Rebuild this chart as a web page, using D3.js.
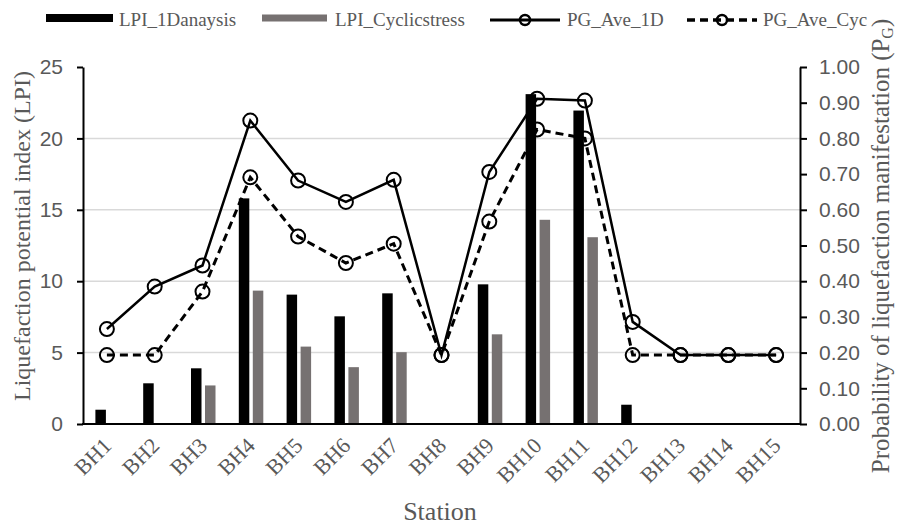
<!DOCTYPE html>
<html>
<head>
<meta charset="utf-8">
<script src="https://cdn.jsdelivr.net/npm/d3@7"></script>
<style>
  body { margin: 0; background: #fff; }
  svg { font-family: "Liberation Serif", "Times New Roman", serif; }
  .axis text { fill: #595959; font-size: 21px; }
  .axis path, .axis line { stroke: #000; stroke-width: 2; }
</style>
</head>
<body>
<div id="chart"></div>
<script>
// data
var stations = ["BH1","BH2","BH3","BH4","BH5","BH6","BH7","BH8","BH9","BH10","BH11","BH12","BH13","BH14","BH15"];
var lpi1D = [1.0, 2.85, 3.9, 15.8, 9.06, 7.54, 9.15, 0, 9.78, 23.1, 21.95, 1.35, 0, 0, 0];
var lpiCyc = [0, 0, 2.7, 9.34, 5.42, 3.98, 5.03, 0, 6.28, 14.3, 13.08, 0, 0, 0, 0];
var pg1D = [0.266, 0.385, 0.444, 0.85, 0.682, 0.622, 0.684, 0.193, 0.706, 0.911, 0.906, 0.286, 0.193, 0.193, 0.193];
var pgCyc = [0.193, 0.193, 0.371, 0.691, 0.525, 0.451, 0.505, 0.193, 0.567, 0.825, 0.80, 0.193, 0.193, 0.193, 0.193];
var leftTicks = [0, 5, 10, 15, 20, 25];
var rightTicks = [0, 0.1, 0.2, 0.3, 0.4, 0.5, 0.6, 0.7, 0.8, 0.9, 1.0];

var W = 898, H = 525;
var pLeft = 83, pRight = 800, pTop = 67, pBottom = 424;

var svg = d3.select("#chart").append("svg")
  .attr("width", W).attr("height", H);

var x0 = d3.scaleBand().domain(stations).range([pLeft, pRight]);
var x1 = d3.scaleBand().domain(["1D", "Cyc"]).range([-11.5, 13]).paddingInner(0.25);
var yL = d3.scaleLinear().domain([0, 25]).range([pBottom, pTop]);
var yR = d3.scaleLinear().domain([0, 1]).range([pBottom, pTop]);
var cx = function(s) { return x0(s) + x0.bandwidth() / 2; };

// gridlines
svg.append("g").selectAll("line")
  .data(leftTicks.filter(function(d) { return d > 0 && d < 25; }))
  .enter().append("line")
  .attr("x1", pLeft).attr("x2", pRight)
  .attr("y1", function(d) { return yL(d); })
  .attr("y2", function(d) { return yL(d); })
  .attr("stroke", "#d9d9d9").attr("stroke-width", 1.5);

// bars
var bars = [
  {key: "1D", values: lpi1D, color: "#000"},
  {key: "Cyc", values: lpiCyc, color: "#767171"}
];
bars.forEach(function(b) {
  svg.append("g").selectAll("rect")
    .data(stations.map(function(s, i) { return {s: s, v: b.values[i]}; }).filter(function(d) { return d.v > 0; }))
    .enter().append("rect")
    .attr("x", function(d) { return cx(d.s) + x1(b.key); })
    .attr("width", x1.bandwidth())
    .attr("y", function(d) { return yL(d.v); })
    .attr("height", function(d) { return yL(0) - yL(d.v); })
    .attr("fill", b.color);
});

// lines
var lines = [
  {values: pg1D, dash: null, width: 2.5},
  {values: pgCyc, dash: "8,5", width: 3}
];
var lineGen = d3.line()
  .x(function(d) { return cx(d.s); })
  .y(function(d) { return yR(d.v); });
lines.forEach(function(l) {
  var pts = stations.map(function(s, i) { return {s: s, v: l.values[i]}; });
  svg.append("path")
    .datum(pts)
    .attr("d", lineGen)
    .attr("fill", "none")
    .attr("stroke", "#000")
    .attr("stroke-width", l.width)
    .attr("stroke-dasharray", l.dash);
  svg.append("g").selectAll("circle")
    .data(pts).enter().append("circle")
    .attr("cx", function(d) { return cx(d.s); })
    .attr("cy", function(d) { return yR(d.v); })
    .attr("r", 7)
    .attr("fill", "none")
    .attr("stroke", "#000")
    .attr("stroke-width", 2);
});

// axes
svg.append("g").attr("class", "axis")
  .attr("transform", "translate(" + pLeft + ",0)")
  .call(d3.axisLeft(yL).tickValues(leftTicks).tickSizeOuter(0).tickSizeInner(6).tickPadding(14));

svg.append("g").attr("class", "axis")
  .attr("transform", "translate(" + pRight + ",0)")
  .call(d3.axisRight(yR).tickValues(rightTicks).tickFormat(d3.format(".2f")).tickSizeOuter(0).tickSizeInner(7).tickPadding(12));

svg.append("line")
  .attr("x1", pLeft - 1).attr("x2", pRight + 1)
  .attr("y1", pBottom).attr("y2", pBottom)
  .attr("stroke", "#000").attr("stroke-width", 2);

// x labels
svg.append("g").selectAll("text")
  .data(stations).enter().append("text")
  .attr("transform", function(d) { return "translate(" + (cx(d) + 6) + "," + (pBottom + 23) + ") rotate(-45)"; })
  .attr("text-anchor", "end")
  .attr("fill", "#595959")
  .style("font-size", "22px")
  .text(function(d) { return d; });

// axis titles
svg.append("text")
  .attr("transform", "translate(" + 30 + "," + 236 + ") rotate(-90)")
  .attr("text-anchor", "middle")
  .attr("fill", "#595959").style("font-size", "24px")
  .text("Liquefaction potential index (LPI)");

var rt = svg.append("text")
  .attr("transform", "translate(" + 889 + "," + 246 + ") rotate(-90)")
  .attr("text-anchor", "middle")
  .attr("fill", "#595959").style("font-size", "25px");
rt.append("tspan").text("Probability of liquefaction manifestation (P");
rt.append("tspan").attr("dy", 4).style("font-size", "16px").text("G");
rt.append("tspan").attr("dy", -4).text(")");

svg.append("text")
  .attr("x", 440).attr("y", 520)
  .attr("text-anchor", "middle")
  .attr("fill", "#595959").style("font-size", "26px")
  .text("Station");

// legend
var lg = svg.append("g").style("font-size", "19px").attr("fill", "#595959");
lg.append("rect").attr("x", 46).attr("y", 14).attr("width", 67).attr("height", 8).attr("fill", "#000");
lg.append("text").attr("x", 119).attr("y", 26).text("LPI_1Danaysis");
lg.append("rect").attr("x", 262).attr("y", 14.5).attr("width", 65).attr("height", 7).attr("fill", "#767171");
lg.append("text").attr("x", 335).attr("y", 26).text("LPI_Cyclicstress");

var legLines = [
  {x: 490, x2: 560, dash: null, w: 3, tx: 567, label: "PG_Ave_1D"},
  {x: 687, x2: 757, dash: "8,5", w: 3.5, tx: 763, label: "PG_Ave_Cyc"}
];
legLines.forEach(function(l) {
  lg.append("line").attr("x1", l.x).attr("x2", l.x2).attr("y1", 20).attr("y2", 20)
    .attr("stroke", "#000").attr("stroke-width", l.w).attr("stroke-dasharray", l.dash);
  lg.append("circle").attr("cx", (l.x + l.x2) / 2).attr("cy", 20).attr("r", 5)
    .attr("fill", "none").attr("stroke", "#000").attr("stroke-width", 2.5);
  lg.append("text").attr("x", l.tx).attr("y", 26).text(l.label);
});
</script>
</body>
</html>
